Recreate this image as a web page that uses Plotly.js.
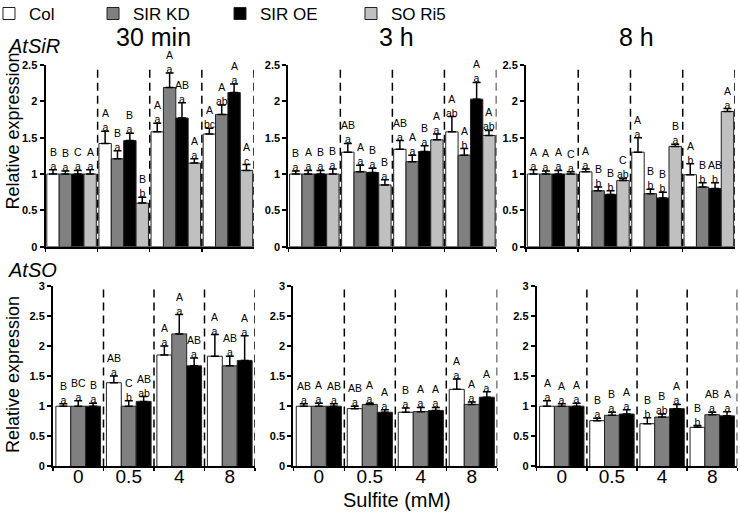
<!DOCTYPE html>
<html><head><meta charset="utf-8">
<script src="https://cdn.plot.ly/plotly-3.0.1.min.js"></script>
<style>html,body{margin:0;padding:0;background:#fff}#chart{width:740px;height:517px}</style>
</head><body><div id="chart"></div>
<script>
// ---------------- DATA ----------------
const doses = ['0', '0.5', '4', '8'];
const lines = ['Col', 'SIR KD', 'SIR OE', 'SO Ri5'];
const timepoints = ['30 min', '3 h', '8 h'];
const genes = ['AtSiR', 'AtSO'];

// AtSiR, 30 min  (rows: Col, SIR KD, SIR OE, SO Ri5)
const sir30_mean = [[1.00, 1.42, 1.58, 1.55], [1.00, 1.21, 2.19, 1.82], [1.00, 1.46, 1.77, 2.12], [1.00, 0.60, 1.15, 1.05]];
const sir30_err  = [[0.06, 0.17, 0.12, 0.08], [0.04, 0.11, 0.20, 0.13], [0.05, 0.10, 0.21, 0.12], [0.06, 0.08, 0.06, 0.08]];
const sir30_up   = [['B','A','A','A'], ['B','B','A','A'], ['C','B','AB','A'], ['A','B','A','A']];
const sir30_lo   = [['a','a','a','bc'], ['a','a','a','ab'], ['a','a','a','a'], ['a','b','a','c']];

// AtSiR, 3 h
const sir3_mean = [[1.00, 1.30, 1.34, 1.58], [1.00, 1.03, 1.17, 1.26], [1.00, 1.02, 1.31, 2.03], [1.00, 0.85, 1.47, 1.53]];
const sir3_err  = [[0.04, 0.12, 0.12, 0.21], [0.05, 0.09, 0.09, 0.09], [0.05, 0.06, 0.08, 0.23], [0.07, 0.07, 0.08, 0.07]];
const sir3_up   = [['B','AB','AB','A'], ['A','A','A','A'], ['B','B','B','A'], ['B','B','A','A']];
const sir3_lo   = [['a','a','a','ab'], ['a','a','a','b'], ['a','a','a','a'], ['a','a','a','ab']];

// AtSiR, 8 h
const sir8_mean = [[1.00, 1.03, 1.30, 0.99], [1.00, 0.77, 0.73, 0.82], [1.00, 0.72, 0.67, 0.80], [1.00, 0.91, 1.38, 1.86]];
const sir8_err  = [[0.06, 0.04, 0.20, 0.15], [0.04, 0.05, 0.06, 0.06], [0.05, 0.05, 0.08, 0.08], [0.03, 0.03, 0.03, 0.04]];
const sir8_up   = [['A','A','A','A'], ['A','B','B','B'], ['A','B','B','AB'], ['C','C','B','A']];
const sir8_lo   = [['a','a','a','b'], ['a','b','b','b'], ['a','b','b','b'], ['a','ab','a','a']];

// AtSO, 30 min  (rows: Col, SIR KD, SIR OE)
const so30_mean = [[1.00, 1.39, 1.85, 1.83], [1.00, 1.00, 2.20, 1.67], [1.00, 1.08, 1.67, 1.76]];
const so30_err  = [[0.04, 0.11, 0.15, 0.36], [0.09, 0.09, 0.32, 0.16], [0.05, 0.08, 0.13, 0.41]];
const so30_up   = [['B','AB','A','A'], ['BC','C','A','AB'], ['B','AB','AB','A']];
const so30_lo   = [['a','a','a','a'], ['a','b','a','a'], ['a','ab','a','a']];

// AtSO, 3 h
const so3_mean = [[1.00, 0.96, 0.90, 1.28], [1.00, 1.03, 0.91, 1.03], [1.00, 0.90, 0.93, 1.15]];
const so3_err  = [[0.04, 0.04, 0.07, 0.17], [0.05, 0.02, 0.07, 0.04], [0.04, 0.04, 0.05, 0.09]];
const so3_up   = [['AB','AB','B','A'], ['A','A','A','A'], ['AB','A','A','A']];
const so3_lo   = [['a','a','a','a'], ['a','a','a','a'], ['a','a','a','a']];

// AtSO, 8 h
const so8_mean = [[1.00, 0.76, 0.71, 0.65], [1.00, 0.85, 0.82, 0.86], [1.00, 0.87, 0.96, 0.84]];
const so8_err  = [[0.09, 0.04, 0.10, 0.03], [0.04, 0.05, 0.05, 0.04], [0.05, 0.07, 0.07, 0.07]];
const so8_up   = [['A','B','B','B'], ['A','B','B','AB'], ['A','A','A','A']];
const so8_lo   = [['a','a','b','b'], ['a','a','ab','a'], ['a','a','a','a']];

const yTopRange = [0, 2.5];
const yBotRange = [0, 3];

// ---------------- STYLE ----------------
const FONT = 'Arial, "Liberation Sans", sans-serif';
const fills = ['#ffffff', '#808080', '#000000', '#c0c0c0'];
const xDomTop = [[0.0615, 0.3432], [0.3896, 0.6709], [0.7108, 0.9932]];
const xDomBot = [[0.0716, 0.3446], [0.3964, 0.6720], [0.7253, 0.9964]];
const yDom = [[0.5228, 0.8743], [0.0977, 0.4474]];
const groupFill = [0.95, 0.885];   // fraction of a category occupied by bars (row 0, row 1)

const panels = [
  {mean: sir30_mean, err: sir30_err, up: sir30_up, lo: sir30_lo},
  {mean: sir3_mean,  err: sir3_err,  up: sir3_up,  lo: sir3_lo},
  {mean: sir8_mean,  err: sir8_err,  up: sir8_up,  lo: sir8_lo},
  {mean: so30_mean,  err: so30_err,  up: so30_up,  lo: so30_lo},
  {mean: so3_mean,   err: so3_err,   up: so3_up,   lo: so3_lo},
  {mean: so8_mean,   err: so8_err,   up: so8_up,   lo: so8_lo}
];

const traces = [];
const annotations = [];
const shapes = [];
const layout = {
  width: 740, height: 517, autosize: false,
  margin: {l: 0, r: 0, t: 0, b: 0, pad: 0, autoexpand: false},
  paper_bgcolor: '#fff', plot_bgcolor: 'rgba(0,0,0,0)',
  barmode: 'overlay',
  font: {family: FONT, color: '#000'},
  showlegend: true
};

panels.forEach((p, i) => {
  const row = i < 3 ? 0 : 1;
  const col = i % 3;
  const xid = i === 0 ? 'x' : 'x' + (i + 1);
  const yid = i === 0 ? 'y' : 'y' + (i + 1);
  const xkey = i === 0 ? 'xaxis' : 'xaxis' + (i + 1);
  const ykey = i === 0 ? 'yaxis' : 'yaxis' + (i + 1);
  const n = p.mean.length;
  const bw = groupFill[row] / n;

  layout[xkey] = {
    domain: row === 0 ? xDomTop[col] : xDomBot[col],
    anchor: yid, type: 'category', categoryarray: doses, categoryorder: 'array',
    range: [-0.5, doses.length - 0.5], tickson: 'boundaries',
    ticks: 'outside', ticklen: 3, tickwidth: 1.5, tickcolor: '#000',
    showline: true, linewidth: 2, linecolor: '#000', showgrid: false, zeroline: false,
    showticklabels: row === 1, ticklabelstandoff: -8,
    tickfont: {family: FONT, size: 19, color: '#000'},
    automargin: false, fixedrange: true
  };
  layout[ykey] = {
    domain: yDom[row], anchor: xid,
    range: row === 0 ? yTopRange : yBotRange, tick0: 0, dtick: 0.5,
    ticks: 'outside', ticklen: 4, tickwidth: 2, tickcolor: '#000',
    showline: true, linewidth: 2, linecolor: '#000', showgrid: false, zeroline: false,
    tickfont: {family: FONT, size: 11, color: '#000', weight: 'bold'},
    automargin: false, fixedrange: true
  };

  for (let s = 0; s < n; s++) {
    const offset = -groupFill[row] / 2 + s * bw;
    traces.push({
      type: 'bar', x: doses, y: p.mean[s], xaxis: xid, yaxis: yid,
      name: lines[s], legendgroup: lines[s], showlegend: i === 0,
      legend: s === 0 ? 'legend' : 'legend' + (s + 1),
      width: bw, offset: offset,
      marker: {color: fills[s], line: {color: '#222', width: 1}},
      error_y: {type: 'data', symmetric: false, array: p.err[s], arrayminus: p.mean[s].map(() => 0),
                visible: true, color: '#000', thickness: 1.5, width: 4}
    });
    doses.forEach((d, k) => {
      annotations.push({
        x: k + offset + bw / 2, y: p.mean[s][k] + p.err[s][k], xref: xid, yref: yid,
        text: p.up[s][k] + '<br>' + p.lo[s][k], showarrow: false,
        xanchor: 'center', yanchor: 'bottom', yshift: -3, borderpad: 0,
        font: {family: FONT, size: 10.5, color: '#000'}});
    });
  }
  // dashed separators at category boundaries
  doses.forEach((d, k) => {
    shapes.push({type: 'line', xref: xid, yref: yid + ' domain', x0: k + 0.5, x1: k + 0.5, y0: 0, y1: 1,
      line: {color: '#000', width: 1.5, dash: '8px,5px'}});
  });
});

// legends (one per genotype so each entry sits where the original places it)
const legendX = [-0.0149, 0.1257, 0.2973, 0.4743];
lines.forEach((l, s) => {
  layout[s === 0 ? 'legend' : 'legend' + (s + 1)] = {
    x: legendX[s], y: 0.973, xanchor: 'left', yanchor: 'middle', orientation: 'h',
    bgcolor: 'rgba(0,0,0,0)', borderwidth: 0,
    font: {family: FONT, size: 17, color: '#000'}
  };
});

// panel titles, gene labels, axis titles
const titleX = [0.208, 0.536, 0.860];
timepoints.forEach((t, c) => annotations.push({
  x: titleX[c], y: 0.9295, xref: 'paper', yref: 'paper', text: t, showarrow: false,
  height: 21, borderpad: 0, valign: 'middle',
  xanchor: 'center', yanchor: 'middle', font: {family: FONT, size: 25, color: '#000'}}));
const geneY = [0.911, 0.4787];
genes.forEach((g, r) => {
  annotations.push({x: 0.008, y: geneY[r], xref: 'paper', yref: 'paper', text: '<i>' + g + '</i>',
    showarrow: false, xanchor: 'left', yanchor: 'middle', font: {family: FONT, size: 20, color: '#000'}});
});
const yTitleY = [0.7456, 0.2747];
yTitleY.forEach(yy => annotations.push({x: 0.0176, y: yy, xref: 'paper', yref: 'paper',
  text: 'Relative expression', textangle: -90, showarrow: false, xanchor: 'center', yanchor: 'middle',
  font: {family: FONT, size: 18, color: '#000'}}));
annotations.push({x: 0.5365, y: 0.033, xref: 'paper', yref: 'paper', text: 'Sulfite (mM)',
  showarrow: false, xanchor: 'center', yanchor: 'middle', font: {family: FONT, size: 20, color: '#000'}});

layout.annotations = annotations;
layout.shapes = shapes;

Plotly.newPlot('chart', traces, layout, {staticPlot: true, displayModeBar: false});
</script>
</body></html>
